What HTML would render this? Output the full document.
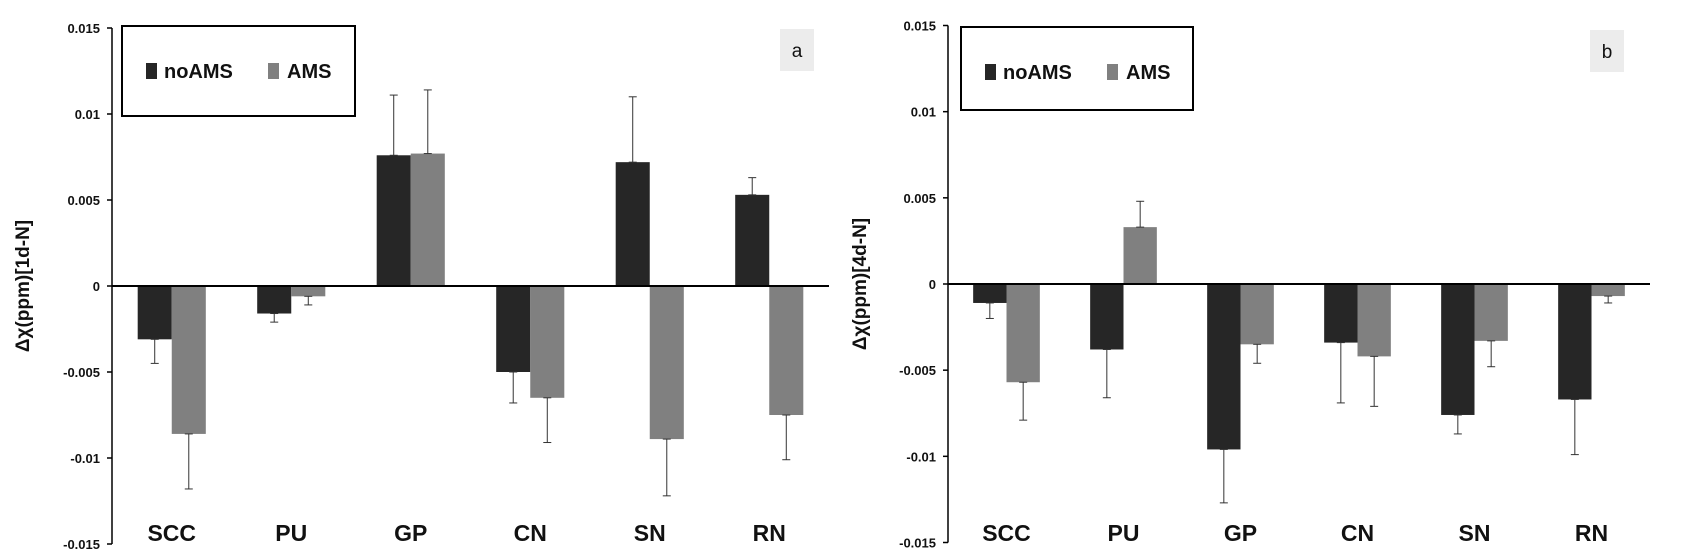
<!DOCTYPE html>
<html><head><meta charset="utf-8"><style>
html,body{margin:0;padding:0;background:#fff;}
svg{display:block;font-family:"Liberation Sans",sans-serif;}
</style></head><body>
<svg id="fig" width="1708" height="555" viewBox="0 0 1708 555"></svg>
<script>
const categories = ["SCC","PU","GP","CN","SN","RN"];
const yTicks = [0.015,0.01,0.005,0,-0.005,-0.01,-0.015];
const yTickLabels = ["0.015","0.01","0.005","0","-0.005","-0.01","-0.015"];
const aNoAMS = [-0.0031,-0.0016,0.0076,-0.0050,0.0072,0.0053];
const aNoAMSErr = [0.0014,0.0005,0.0035,0.0018,0.0038,0.0010];
const aAMS = [-0.0086,-0.0006,0.0077,-0.0065,-0.0089,-0.0075];
const aAMSErr = [0.0032,0.0005,0.0037,0.0026,0.0033,0.0026];
const bNoAMS = [-0.0011,-0.0038,-0.0096,-0.0034,-0.0076,-0.0067];
const bNoAMSErr = [0.0009,0.0028,0.0031,0.0035,0.0011,0.0032];
const bAMS = [-0.0057,0.0033,-0.0035,-0.0042,-0.0033,-0.0007];
const bAMSErr = [0.0022,0.0015,0.0011,0.0029,0.0015,0.0004];

const NS="http://www.w3.org/2000/svg";
const svg=document.getElementById('fig');
function mk(tag,attrs,parent,text){const e=document.createElementNS(NS,tag);for(const k in attrs)e.setAttribute(k,attrs[k]);if(text!==undefined)e.textContent=text;(parent||svg).appendChild(e);return e;}

function drawChart(cfg){
  const g=mk('g',{});
  
  
  const y=v=>cfg.y0-(v/0.015)*(cfg.y0-cfg.yTop);
  const band=(cfg.xEnd-cfg.x0)/categories.length;
  const cx=i=>cfg.x0+band*(i+0.5);
  // y axis
  const ax=mk('line',{x1:cfg.x0,y1:y(0.015),x2:cfg.x0,y2:y(-0.015),stroke:'#000','stroke-width':1.5},g);
  
  
  yTicks.forEach((t,i)=>{
    mk('line',{x1:cfg.x0-5,y1:y(t),x2:cfg.x0,y2:y(t),stroke:'#000','stroke-width':1.5},g);
    const tl=mk('text',{x:cfg.x0-12,y:y(t)+5,'text-anchor':'end','font-size':13,'font-weight':'bold',fill:'#111'},g,yTickLabels[i]);
    
    
  });
  const yt=mk('text',{transform:`translate(${cfg.titleX},${y(0)}) rotate(-90)`,'text-anchor':'middle','font-size':19,'font-weight':'bold',fill:'#111'},g,cfg.title);
  
  
  const bw=band*0.285;
  function series(vals,errs,color,off,nm){
    vals.forEach((v,i)=>{
      const xL=cx(i)+off*bw;
      const r=mk('rect',{x:xL,y:Math.min(y(v),y(0)),width:bw,height:Math.abs(y(v)-y(0)),fill:color},g);
      
      
      const ec=xL+bw/2, e=v>=0?v+errs[i]:v-errs[i];
      const el=mk('line',{x1:ec,y1:y(v),x2:ec,y2:y(e),stroke:'#333','stroke-width':1},g);
      
      
      mk('line',{x1:ec-4,y1:y(e),x2:ec+4,y2:y(e),stroke:'#333','stroke-width':1},g);
      mk('line',{x1:ec-4,y1:y(v),x2:ec+4,y2:y(v),stroke:'#333','stroke-width':1},g);
    });
  }
  series(cfg.no,cfg.noErr,'#262626',-1,'noams');
  series(cfg.ams,cfg.amsErr,'#808080',0,'ams');
  const zl=mk('line',{x1:cfg.x0,y1:y(0),x2:cfg.xEnd,y2:y(0),stroke:'#000','stroke-width':2},g);
  
  
  categories.forEach((c,i)=>{
    const t=mk('text',{x:cx(i),y:cfg.catY,'text-anchor':'middle','font-size':23,'font-weight':'bold',fill:'#111'},g,c);
    
    
  });
  // legend
  const lg=mk('g',{},g);
  
  
  mk('rect',{x:cfg.lx,y:cfg.ly,width:cfg.lw,height:cfg.lh,fill:'#fff',stroke:'#000','stroke-width':2},lg);
  const sy=cfg.ly+37;
  mk('rect',{x:cfg.lx+24,y:sy,width:11,height:16,fill:'#262626'},lg);
  const t1=mk('text',{x:cfg.lx+42,y:sy+15,'font-size':20,'font-weight':'bold',fill:'#111'},lg,'noAMS');
  
  
  mk('rect',{x:cfg.lx+146,y:sy,width:11,height:16,fill:'#808080'},lg);
  const t2=mk('text',{x:cfg.lx+165,y:sy+15,'font-size':20,'font-weight':'bold',fill:'#111'},lg,'AMS');
  
  
  // panel label
  const pl=mk('g',{},g);
  
  
  mk('rect',{x:cfg.px,y:cfg.py,width:34,height:42,fill:'#ececec'},pl);
  mk('text',{x:cfg.px+17,y:cfg.py+28,'text-anchor':'middle','font-size':19,fill:'#111'},pl,cfg.label);
}

drawChart({name:'chart-a',x0:112,xEnd:829,yTop:28,y0:286,title:'Δχ(ppm)[1d-N]',titleX:29,catY:541,
  no:aNoAMS,noErr:aNoAMSErr,ams:aAMS,amsErr:aAMSErr,lx:122,ly:26,lw:233,lh:90,px:780,py:29,label:'a'});
drawChart({name:'chart-b',x0:948,xEnd:1650,yTop:25.5,y0:284,title:'Δχ(ppm)[4d-N]',titleX:866,catY:541,
  no:bNoAMS,noErr:bNoAMSErr,ams:bAMS,amsErr:bAMSErr,lx:961,ly:27,lw:232,lh:83,px:1590,py:30,label:'b'});
</script>
</body></html>
